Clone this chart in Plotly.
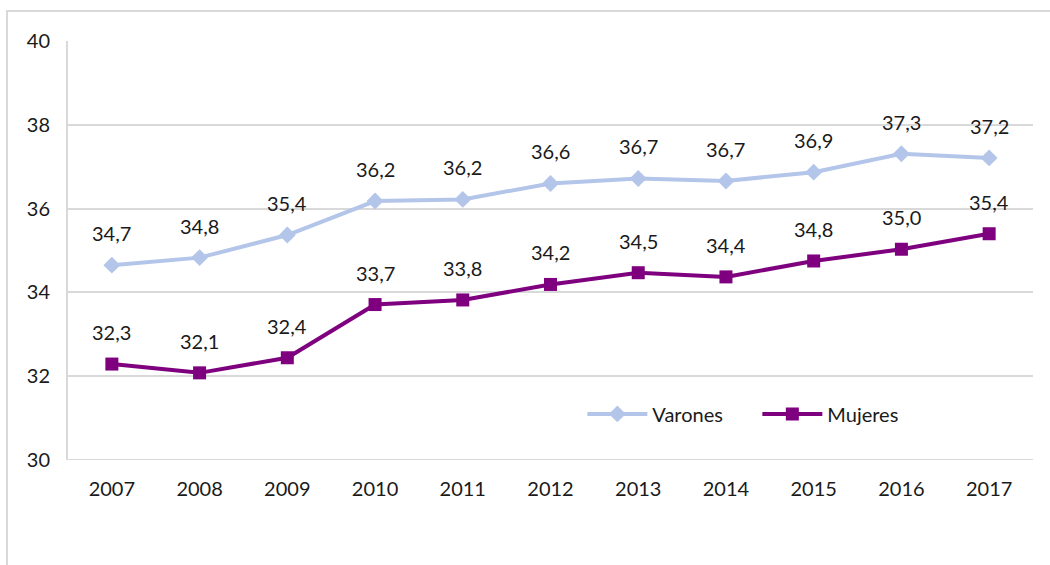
import plotly.graph_objects as go

# Data
years = ["2007", "2008", "2009", "2010", "2011", "2012", "2013", "2014", "2015", "2016", "2017"]
varones = [34.65, 34.83, 35.37, 36.18, 36.22, 36.6, 36.72, 36.66, 36.87, 37.31, 37.21]
mujeres = [32.29, 32.08, 32.44, 33.71, 33.82, 34.19, 34.47, 34.37, 34.75, 35.03, 35.40]
varones_lbl = ["34,7", "34,8", "35,4", "36,2", "36,2", "36,6", "36,7", "36,7", "36,9", "37,3", "37,2"]
mujeres_lbl = ["32,3", "32,1", "32,4", "33,7", "33,8", "34,2", "34,5", "34,4", "34,8", "35,0", "35,4"]

font = "Lato, 'Open Sans', sans-serif"

fig = go.Figure()
fig.add_trace(go.Scatter(x=years, y=varones, name="Varones", mode="lines+markers",
                         line=dict(color="#B4C5EA", width=4),
                         marker=dict(symbol="diamond", size=13, color="#B4C5EA")))
fig.add_trace(go.Scatter(x=years, y=mujeres, name="Mujeres", mode="lines+markers",
                         line=dict(color="#7F007F", width=4),
                         marker=dict(symbol="square", size=13, color="#7F007F")))

# data labels above points
for ys, labels in [(varones, varones_lbl), (mujeres, mujeres_lbl)]:
    for i, (y, t) in enumerate(zip(ys, labels)):
        fig.add_annotation(x=i, y=y, xref="x", yref="y", text=t, showarrow=False, yshift=32,
                           font=dict(size=20, color="#1a1a1a", family=font))

# outer chart frame
fig.add_shape(type="rect", xref="paper", yref="paper",
              x0=-0.0632, x1=1.03, y0=-0.27, y1=1.0716,
              line=dict(color="#D9D9D9", width=2), layer="below")

fig.update_layout(
    width=1050, height=565,
    margin=dict(l=68, r=17, t=41, b=105),
    plot_bgcolor="white", paper_bgcolor="white",
    font=dict(family=font, size=20, color="#1a1a1a"),
    showlegend=True,
    legend=dict(orientation="h", x=0.533, y=0.11, xanchor="left", yanchor="middle",
                bgcolor="rgba(0,0,0,0)", font=dict(size=20), itemwidth=60,
                entrywidth=100),
    xaxis=dict(type="category", range=[-0.5, 10.5], showgrid=False, automargin=False,
               showline=False, ticks="", zeroline=False, ticklabelstandoff=15),
    yaxis=dict(range=[30, 40], dtick=2, showgrid=True, gridcolor="#D9D9D9", gridwidth=1.5,
               showline=True, linecolor="#D9D9D9", linewidth=2, ticks="", automargin=False,
               zeroline=False, ticklabelstandoff=12),
)
# bottom axis line at 30
fig.add_shape(type="line", xref="paper", yref="y", x0=0, x1=1, y0=30, y1=30,
              line=dict(color="#D9D9D9", width=2))

fig.write_html("out.html", config={"displayModeBar": False},
               post_script="document.body.style.margin='0';")
